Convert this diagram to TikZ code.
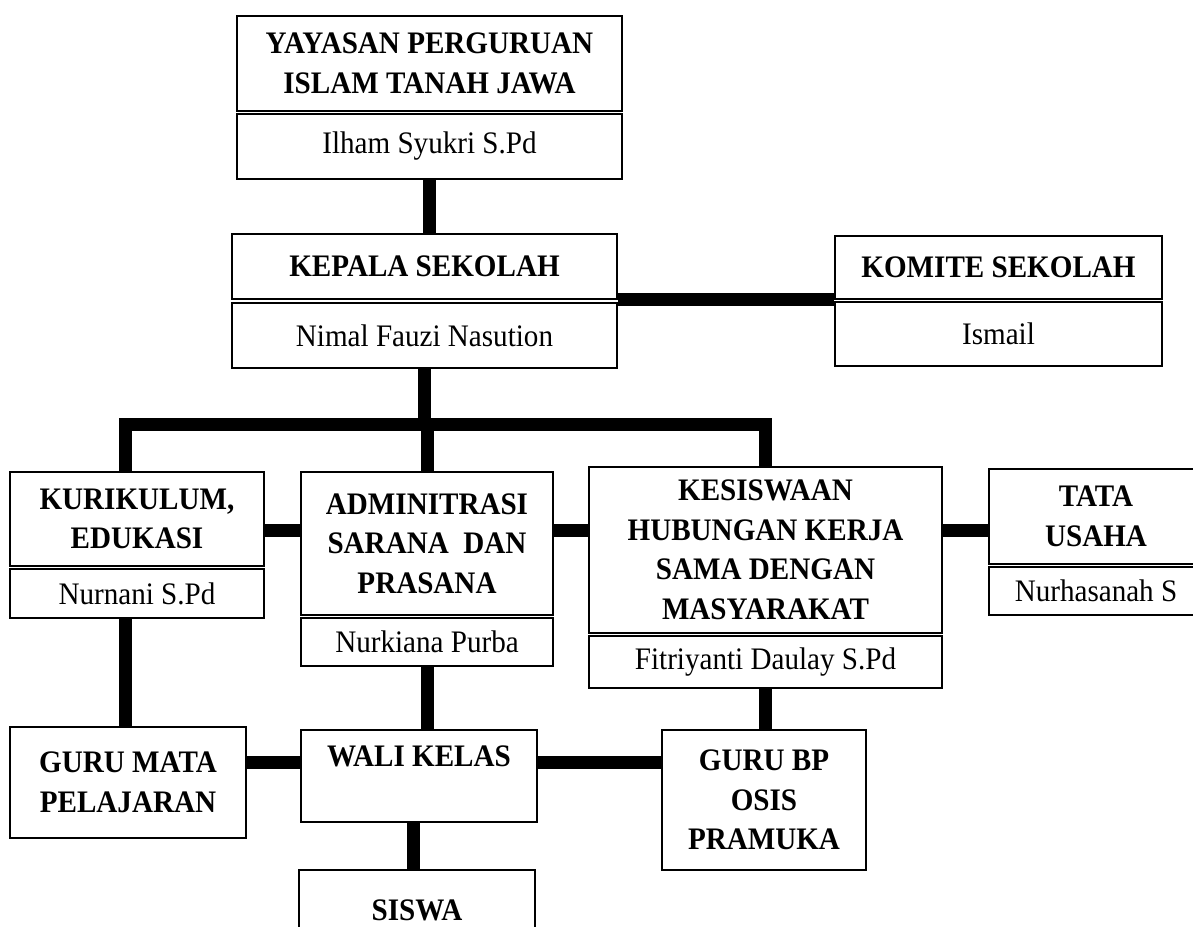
\documentclass[tikz,border=0pt]{standalone}
\usepackage{fontspec}
\setmainfont[FakeStretch=0.93]{Liberation Serif}
\tikzset{titlebox/.style={draw,rectangle,line width=1.6pt,align=center,inner sep=0,
    font=\fontsize{31.3}{39.5}\selectfont\bfseries},
  namebox/.style={draw,rectangle,line width=1.6pt,inner sep=0,
    font=\fontsize{31.3}{39.5}\selectfont},
  thickline/.style={line width=13pt,line join=miter}}

\begin{document}
\begin{tikzpicture}[x=1pt,y=-1pt]

\useasboundingbox (0,0) rectangle (1193,926);

% top

\node (yayasan) [titlebox,minimum width=385pt,minimum height=95pt] at (429.5,63.5) {YAYASAN PERGURUAN\\ISLAM TANAH JAWA};
\node (yayasanNama) [namebox,minimum width=385pt,minimum height=65pt] at (429.5,146.5) {Ilham Syukri S.Pd};

\node (kepala) [titlebox,minimum width=385pt,minimum height=65pt] at (424.5,266.5) {KEPALA SEKOLAH};
\node (kepalaNama) [namebox,minimum width=385pt,minimum height=65pt] at (424.5,335.5) {Nimal Fauzi Nasution};

\node (komite) [titlebox,minimum width=327pt,minimum height=63pt] at (998.5,267.5) {KOMITE SEKOLAH};
\node (komiteNama) [namebox,minimum width=327pt,minimum height=64pt] at (998.5,334) {Ismail};

\draw [thickline] (yayasanNama.south) -- (yayasanNama.south |- kepala.north);
\draw [thickline] (kepala.south east) -- (komite.south west);

% middle row

\node (kuri) [titlebox,minimum width=254pt,minimum height=94pt] at (137,519) {KURIKULUM,\\EDUKASI};
\node (kuriNama) [namebox,minimum width=254pt,minimum height=49pt] at (137,593.5) {Nurnani S.Pd};

\node (admin) [titlebox,minimum width=252pt,minimum height=143pt] at (427,543.5) {ADMINITRASI\\SARANA~ DAN\\PRASANA};
\node (adminNama) [namebox,minimum width=252pt,minimum height=48pt] at (427,642) {Nurkiana Purba};

\node (kesis) [titlebox,minimum width=353pt,minimum height=166pt] at (765.5,550) {KESISWAAN\\HUBUNGAN KERJA\\SAMA DENGAN\\MASYARAKAT};
\node (kesisNama) [namebox,minimum width=353pt,minimum height=52pt] at (765.5,662) {Fitriyanti Daulay S.Pd};

\node (tata) [titlebox,minimum width=214pt,minimum height=95pt] at (1096,516.5) {TATA\\USAHA};
\node (tataNama) [namebox,minimum width=214pt,minimum height=48pt] at (1096,591) {Nurhasanah S};

\coordinate (barL) at (125,424);
\coordinate (barR) at (765,424);
\coordinate (rowA) at (0,530);

\draw [thickline] (kepalaNama.south) -- (kepalaNama.south |- barL);
\draw [thickline] (kuri.north -| barL) -- (barL) -- (barR) -- (kesis.north -| barR);
\draw [thickline] (admin.north) -- (admin.north |- barL);

\draw [thickline] (kuri.east |- rowA) -- (admin.west |- rowA);
\draw [thickline] (admin.east |- rowA) -- (kesis.west |- rowA);
\draw [thickline] (kesis.east |- rowA) -- (tata.west |- rowA);

% bottom row

\node (guruMapel) [titlebox,minimum width=236pt,minimum height=111pt] at (128,782.5) {GURU MATA\\PELAJARAN};
\node (wali) [titlebox,minimum width=236pt,minimum height=92pt] at (419,776) {WALI KELAS\\~};
\node (guruBP) [titlebox,minimum width=204pt,minimum height=140pt] at (764,800) {GURU BP\\OSIS\\PRAMUKA};
\node (siswa) [titlebox,minimum width=236pt,minimum height=120pt] at (417,930) {SISWA\\~};

\coordinate (rowB) at (0,762);

\draw [thickline] (kuriNama.south -| barL) -- (guruMapel.north -| barL);
\draw [thickline] (adminNama.south) -- (adminNama.south |- wali.north);
\draw [thickline] (kesisNama.south) -- (kesisNama.south |- guruBP.north);
\draw [thickline] (guruMapel.east |- rowB) -- (wali.west |- rowB);
\draw [thickline] (wali.east |- rowB) -- (guruBP.west |- rowB);
\draw [thickline] ([xshift=-6pt]wali.south) -- ([xshift=-6pt]wali.south |- siswa.north);

\end{tikzpicture}
\end{document}
